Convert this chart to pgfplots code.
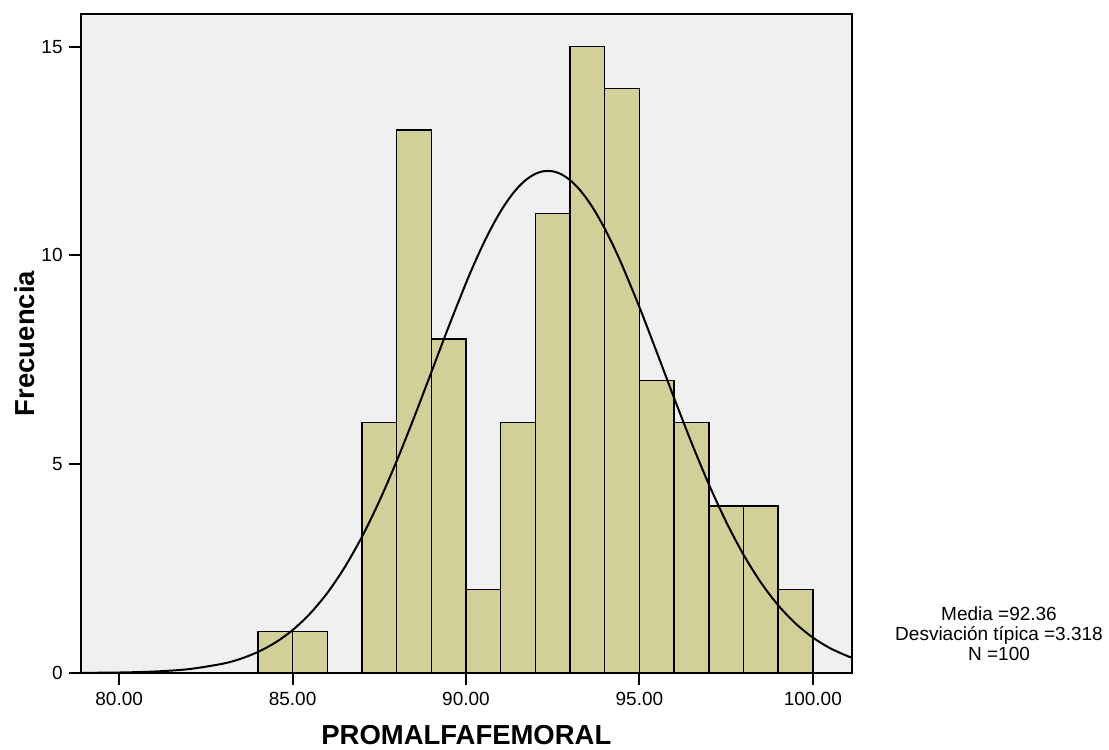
\documentclass[border=0pt]{standalone}
\usepackage{fontspec}
\setmainfont{Liberation Sans}
\usepackage{pgfplots}
\pgfplotsset{compat=1.18}
\definecolor{bgray}{HTML}{F0F0F0}
\definecolor{barfill}{HTML}{D3CF98}
\begin{document}
\begin{tikzpicture}
\path[use as bounding box] (0,0) rectangle (831.75pt,561.75pt);
\begin{axis}[
  at={(60.5pt,57pt)}, anchor=south west,
  scale only axis, width=578.5pt, height=494.25pt,
  xmin=78.89, xmax=101.13, ymin=0, ymax=15.78,
  axis background/.style={fill=bgray},
  axis line style={line width=1.5pt},
  xtick={80,85,90,95,100}, ytick={0,5,10,15},
  xtick pos=bottom, ytick pos=left,
  tick align=outside, major tick length=9pt,
  tick style={line width=1.5pt, black},
  /pgf/number format/assume math mode=true,
  x tick label style={font=\fontsize{14.25}{16}\selectfont, yshift=-2pt, /pgf/number format/fixed, /pgf/number format/fixed zerofill, /pgf/number format/precision=2},
  y tick label style={font=\fontsize{14.25}{16}\selectfont, xshift=-1pt},
  xlabel={PROMALFAFEMORAL}, ylabel={Frecuencia},
  label style={font=\bfseries\fontsize{20.6}{22}\selectfont},
  xlabel style={at={(axis description cs:0.5,-0.094)}, anchor=center},
  ylabel style={at={(axis description cs:-0.0722,0.5)}, anchor=center},
  clip mode=individual,
]
\addplot[ybar interval, fill=barfill, draw=black, line width=1.1pt] coordinates {
(84,1) (85,1) (86,0) (87,6) (88,13) (89,8) (90,2) (91,6) (92,11) (93,15) (94,14) (95,7) (96,6) (97,4) (98,4) (99,2) (100,2)
};
\addplot[smooth, tension=0.5, black, line width=1.5pt] coordinates {
(78.89,0.0032) (79,0.0036) (80,0.0117) (81,0.0342) (82,0.0918) (83,0.2249) (83.5,0.340) (84,0.503) (84.5,0.727) (85,1.027) (85.5,1.419) (86,1.915) (86.5,2.528) (87,3.261) (87.5,4.113) (88,5.072) (88.5,6.112) (89,7.200) (89.5,8.293) (90,9.337) (90.25,9.823) (90.5,10.276) (90.75,10.689) (91,11.055) (91.25,11.370) (91.5,11.627) (91.75,11.822) (92,11.953) (92.25,12.017) (92.5,12.013) (92.75,11.941) (93,11.803) (93.25,11.599) (93.5,11.335) (93.75,11.014) (94,10.641) (94.25,10.223) (94.5,9.766) (95,8.762) (95.5,7.684) (96,6.587) (96.5,5.520) (97,4.523) (97.5,3.622) (98,2.835) (98.5,2.170) (99,1.623) (99.5,1.187) (100,0.849) (100.5,0.593) (101,0.405) (101.13,0.369)
};
\end{axis}
\node[align=center, font=\fontsize{14.25}{15}\selectfont, anchor=center] at (749.25pt,86.25pt) {Media =92.36\\Desviación típica =3.318\\N =100};
\end{tikzpicture}
\end{document}
